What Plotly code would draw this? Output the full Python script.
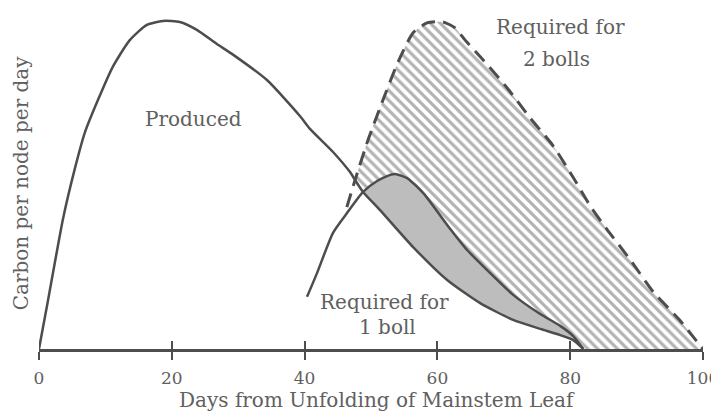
import plotly.graph_objects as go

# ---- data (days, carbon units) ----
produced_days = [0, 1.36, 2.37, 3.62, 5.38, 6.89, 8.89, 11.11, 13.67, 16.24, 18.65, 21.21,
                 23.78, 26.79, 29.21, 34.33, 39.3, 40.81, 44.28, 46.84, 47.6, 48.8,
                 51.36, 56.34, 61.47, 66.44, 71.41, 75.48, 78.5, 80.46, 81.97]
produced_carbon = [0, 14.8, 26.0, 39.5, 54.5, 65.5, 75.5, 85.5, 93.6, 98.2, 99.4, 99.1,
                   96.7, 92.4, 89.2, 81.5, 70.6, 66.7, 59.7, 53.6, 51.2, 47.6,
                   42.1, 30.9, 20.9, 13.9, 8.8, 6.1, 4.2, 2.7, 0]

one_boll_days = [40.36, 41.87, 44.28, 46.39, 48.8, 50.91, 52.42, 53.63, 55.44, 57.85,
                 61.47, 64.48, 67.5, 71.41, 75.48, 78.5, 80.46, 81.97]
one_boll_carbon = [15.8, 23.0, 35.2, 41.2, 47.6, 50.9, 52.4, 53.0, 51.8, 47.3,
                   37.6, 30.0, 23.9, 16.4, 10.6, 7.0, 3.9, 0]

two_boll_days = [46.36, 47.6, 49.55, 51.81, 54.08, 56.34, 58.45, 60.86, 62.67, 64.18,
                 66.89, 70.51, 73.98, 77.45, 80.32, 83.03, 85.59, 89.06, 92.52,
                 96.6, 98.56, 100]
two_boll_carbon = [43.0, 51.2, 63.3, 75.5, 87.0, 95.8, 98.8, 99.1, 97.3, 93.6,
                   87.6, 79.1, 70.0, 61.5, 52.4, 43.3, 36.1, 27.0, 17.3,
                   8.5, 3.6, 0]

tick_values = [0, 20, 40, 60, 80, 100]
tick_labels = ["0", "20", "40", "60", "80", "100"]

x_title = "Days from Unfolding of Mainstem Leaf"
y_title = "Carbon per node per day"

# ---- derived boundaries for the shaded regions ----
cross_1 = 48.8   # produced meets 1-boll requirement
cross_2 = 47.6   # produced meets 2-boll requirement

gray_low_x = [d for d in produced_days if d >= cross_1]
gray_low_y = [c for d, c in zip(produced_days, produced_carbon) if d >= cross_1]
gray_up_x = [d for d in one_boll_days if d >= cross_1]
gray_up_y = [c for d, c in zip(one_boll_days, one_boll_carbon) if d >= cross_1]

hatch_low_x = [d for d in produced_days if cross_2 <= d < cross_1] + gray_up_x + [two_boll_days[-1]]
hatch_low_y = [c for d, c in zip(produced_days, produced_carbon) if cross_2 <= d < cross_1] + gray_up_y + [two_boll_carbon[-1]]
hatch_up_x = [d for d in two_boll_days if d >= cross_2]
hatch_up_y = [c for d, c in zip(two_boll_days, two_boll_carbon) if d >= cross_2]

LINE = "#4d4d4d"
TEXT = "#606060"
FONT = "DejaVu Serif"
SM = 0.6

fig = go.Figure()

# gray region (deficit for 1 boll)
fig.add_trace(go.Scatter(x=gray_low_x, y=gray_low_y, mode="lines",
                         line=dict(width=0, shape="spline", smoothing=SM),
                         hoverinfo="skip", showlegend=False))
fig.add_trace(go.Scatter(x=gray_up_x, y=gray_up_y, mode="lines", fill="tonexty",
                         fillcolor="#bdbdbd",
                         line=dict(width=0, shape="spline", smoothing=SM),
                         hoverinfo="skip", showlegend=False))

# hatched region (extra for 2 bolls)
fig.add_trace(go.Scatter(x=hatch_low_x, y=hatch_low_y, mode="lines",
                         line=dict(width=0, shape="spline", smoothing=SM),
                         hoverinfo="skip", showlegend=False))
fig.add_trace(go.Scatter(x=hatch_up_x, y=hatch_up_y, mode="lines", fill="tonexty",
                         fillcolor="white",
                         fillpattern=dict(shape="\\", fgcolor="#666666", bgcolor="white",
                                          size=7, solidity=0.45),
                         line=dict(width=0, shape="spline", smoothing=SM),
                         hoverinfo="skip", showlegend=False))

# curves
fig.add_trace(go.Scatter(x=produced_days, y=produced_carbon, mode="lines",
                         line=dict(color=LINE, width=2.5, shape="spline", smoothing=SM),
                         name="Produced", showlegend=False))
fig.add_trace(go.Scatter(x=one_boll_days, y=one_boll_carbon, mode="lines",
                         line=dict(color=LINE, width=2.5, shape="spline", smoothing=SM),
                         name="Required for 1 boll", showlegend=False))
fig.add_trace(go.Scatter(x=two_boll_days, y=two_boll_carbon, mode="lines",
                         line=dict(color=LINE, width=3, dash="14px,8px", shape="spline", smoothing=SM),
                         name="Required for 2 bolls", showlegend=False))

# invisible trace to carry the inner tick marks axis
fig.add_trace(go.Scatter(x=[0, 100], y=[0, 0], mode="lines", line=dict(width=0),
                         xaxis="x2", hoverinfo="skip", showlegend=False))

# the page body adds an 8px offset, so the figure is 8px smaller on each side
fig.update_layout(
    width=711, height=404,
    margin=dict(l=31, r=16, t=0, b=63),
    paper_bgcolor="white", plot_bgcolor="white",
    font=dict(family=FONT, color=TEXT),
    xaxis=dict(range=[0, 100], showgrid=False, zeroline=False,
               showline=True, linecolor=LINE, linewidth=2.5,
               ticks="outside", ticklen=8, tickwidth=2, tickcolor=LINE,
               tickvals=tick_values, ticktext=tick_labels,
               tickfont=dict(family=FONT, size=17, color=TEXT),
               ticklabelstandoff=4, ticklabeloverflow="allow"),
    xaxis2=dict(range=[0, 100], overlaying="x", anchor="y", side="bottom",
                showgrid=False, zeroline=False, showline=False,
                ticks="inside", ticklen=8, tickwidth=2, tickcolor=LINE,
                tickvals=tick_values, showticklabels=False),
    yaxis=dict(range=[0, 103.33], visible=False),
)

ann = dict(showarrow=False, font=dict(family=FONT, size=20, color=TEXT))
fig.add_annotation(text=x_title, xref="x", yref="paper", x=50.9, y=-0.150,
                   xanchor="center", yanchor="middle", **ann)
fig.add_annotation(text=y_title, xref="paper", yref="paper", x=-0.0275, y=0.488,
                   xanchor="center", yanchor="middle", textangle=-90, **ann)
fig.add_annotation(text="Produced", xref="x", yref="y", x=23.3, y=69.7,
                   xanchor="center", yanchor="middle", **ann)
fig.add_annotation(text="Required for", xref="x", yref="y", x=78.5, y=97.6,
                   xanchor="center", yanchor="middle", **ann)
fig.add_annotation(text="2 bolls", xref="x", yref="y", x=77.9, y=87.9,
                   xanchor="center", yanchor="middle", **ann)
fig.add_annotation(text="Required for", xref="x", yref="y", x=52.1, y=14.2,
                   xanchor="center", yanchor="middle", **ann)
fig.add_annotation(text="1 boll", xref="x", yref="y", x=52.5, y=6.7,
                   xanchor="center", yanchor="middle", **ann)

fig.write_html("out.html")
